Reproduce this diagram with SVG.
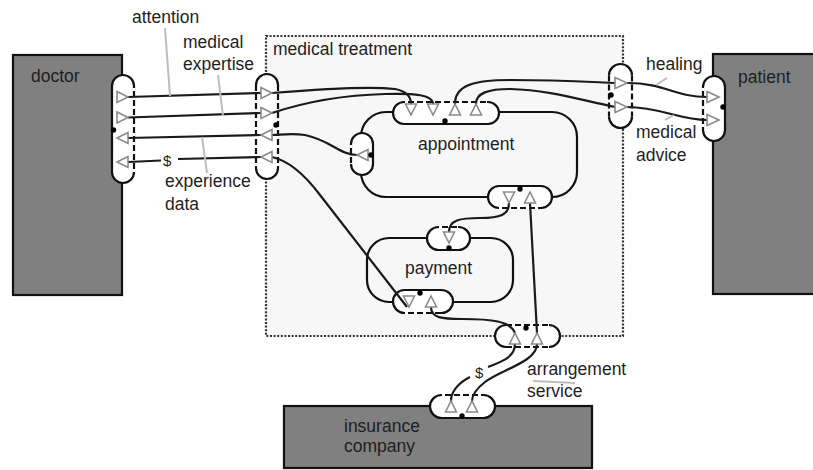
<svg xmlns="http://www.w3.org/2000/svg" width="813" height="470" viewBox="0 0 813 470">
<style>
text{font-family:"Liberation Sans",Arial,sans-serif;font-size:17.5px;fill:#1e1e1e}
.box{fill:#808080;stroke:#111;stroke-width:2.2}
.mt{fill:#f7f7f7;stroke:#333;stroke-width:2.2;stroke-dasharray:2 1.6}
.comp{fill:none;stroke:#111;stroke-width:2.2}
.port{fill:#fff;stroke:#111;stroke-width:2.2}
.dash{fill:none;stroke:#111;stroke-width:2.2;stroke-dasharray:6 3}
.c{fill:none;stroke:#1a1a1a;stroke-width:2.2}
.tri{fill:#fff;stroke:#8a8a8a;stroke-width:1.6;stroke-linejoin:miter}
.dot{fill:#000}
.lead{stroke:#bdbdbd;stroke-width:2;fill:none}
</style>

<g id="medical-treatment">
<rect class="mt" x="266" y="36" width="357" height="300"/>
<text x="273" y="55">medical treatment</text>
</g>

<g id="appointment">
<rect class="comp" x="361" y="112" width="216" height="85" rx="25"/>
<text x="418" y="150">appointment</text>
</g>

<g id="payment">
<rect class="comp" x="367" y="238" width="146" height="64" rx="22"/>
<text x="405" y="274">payment</text>
</g>

<g id="doctor">
<rect class="box" x="13" y="55" width="109" height="240"/>
<text x="31" y="82">doctor</text>
</g>

<g id="patient">
<rect class="box" x="713" y="54" width="110" height="240"/>
<text x="738" y="83">patient</text>
</g>

<g id="insurance-company">
<rect class="box" x="284" y="406" width="308" height="62"/>
<text x="344" y="432">insurance</text>
<text x="344" y="452">company</text>
</g>

<g id="ports">
<rect class="port" x="112" y="75" width="22" height="108" rx="11"/>
<rect class="port" x="256" y="74" width="22" height="105" rx="11" style="stroke:none"/>
<path class="comp" d="M256,85 A11,11 0 0 1 278,85 M256,168 A11,11 0 0 0 278,168"/>
<path class="dash" d="M256,85 V168 M278,85 V168"/>
<rect class="port" x="609" y="64" width="23" height="64" rx="11.5" style="stroke:none"/>
<path class="comp" d="M609,75.5 A11.5,11.5 0 0 1 632,75.5 M609,116.5 A11.5,11.5 0 0 0 632,116.5"/>
<path class="dash" d="M609,75.5 V116.5 M632,75.5 V116.5"/>
<rect class="port" x="703" y="76" width="22" height="65" rx="11"/>
<rect class="port" x="393" y="102" width="106" height="22" rx="11"/>
<rect class="port" x="351" y="133" width="22" height="42" rx="11"/>
<rect class="port" x="488" y="186" width="64" height="22" rx="11"/>
<rect class="port" x="427" y="227" width="43" height="23" rx="11.5"/>
<rect class="port" x="393" y="290" width="60" height="23" rx="11.5"/>
<rect class="port" x="495" y="325" width="65" height="22" rx="11" style="stroke:none"/>
<path class="comp" d="M506,325 A11,11 0 0 0 506,347 M549,325 A11,11 0 0 1 549,347"/>
<path class="dash" d="M506,325 H549 M506,347 H549"/>
<rect class="port" x="430" y="395" width="65" height="23" rx="11.5"/>
<g stroke="#fff" stroke-width="2.6" stroke-dasharray="3 6" fill="none">
<line x1="134" y1="88" x2="134" y2="172"/>
<line x1="703" y1="88" x2="703" y2="130"/>
<line x1="405" y1="102" x2="487" y2="102"/>
<line x1="351" y1="145" x2="351" y2="164"/>
<line x1="499" y1="208" x2="541" y2="208"/>
<line x1="439" y1="227" x2="458" y2="227"/>
<line x1="405" y1="313" x2="441" y2="313"/>
<line x1="442" y1="395" x2="483" y2="395"/>
</g>
</g>

<g id="connectors">
<path class="c" d="M128,97 L261,93"/>
<path class="c" d="M128,117.5 L261,113"/>
<path class="c" d="M261,135 L128,138"/>
<path class="c" d="M261,157 L178,159 M161,160.5 L128,162"/>
<path class="c" d="M272,93 C320,89 370,86 395,89 C406,91 411,96 411,104"/>
<path class="c" d="M272,113 C305,102 345,95 385,94 C415,93 433,95 433,104"/>
<path class="c" d="M455,104 C455,86 472,80 510,80 C560,80 590,82 615,83"/>
<path class="c" d="M476,104 C476,93 488,89 510,89 C550,90 580,100 615,107"/>
<path class="c" d="M627,83 C665,83 675,97 707,97"/>
<path class="c" d="M627,107 C660,107 680,120 707,120"/>
<path class="c" d="M357,155 C340,155 330,140 305,135 C290,133 280,135 272,135"/>
<path class="c" d="M272,157 C290,161 305,175 320,195 L407,307"/>
<path class="c" d="M431,307 C431,318 442,319 462,319 C492,319 510,321 515,333"/>
<path class="c" d="M515,344 C515,358 500,362 488,367 M470,377 C458,383 451,392 451,401"/>
<path class="c" d="M537,344 C537,362 500,370 485,382 C476,389 472,395 472,401"/>
<path class="c" d="M537,333 L530,203"/>
<path class="c" d="M509,203 C509,215 500,218 480,218 C460,218 449,220 449,232"/>
</g>

<g id="arrowheads">
<polygon class="tri" points="117,91.5 128,97 117,102.5"/>
<polygon class="tri" points="117,112 128,117.5 117,123"/>
<polygon class="tri" points="128,132.5 117,138 128,143.5"/>
<polygon class="tri" points="128,156.5 117,162 128,167.5"/>
<polygon class="tri" points="261,87.5 272,93 261,98.5"/>
<polygon class="tri" points="261,107.5 272,113 261,118.5"/>
<polygon class="tri" points="272,129.5 261,135 272,140.5"/>
<polygon class="tri" points="272,151.5 261,157 272,162.5"/>
<polygon class="tri" points="405.5,104 416.5,104 411,115"/>
<polygon class="tri" points="427.5,104 438.5,104 433,115"/>
<polygon class="tri" points="449.5,115 460.5,115 455,104"/>
<polygon class="tri" points="470.5,115 481.5,115 476,104"/>
<polygon class="tri" points="368,149.5 357,155 368,160.5"/>
<polygon class="tri" points="503.5,192 514.5,192 509,203"/>
<polygon class="tri" points="524.5,203 535.5,203 530,192"/>
<polygon class="tri" points="443.5,232 454.5,232 449,243"/>
<polygon class="tri" points="403.5,296 414.5,296 409,307"/>
<polygon class="tri" points="425.5,307 436.5,307 431,296"/>
<polygon class="tri" points="615,77.5 627,83 615,88.5"/>
<polygon class="tri" points="615,101.5 627,107 615,112.5"/>
<polygon class="tri" points="707,91.5 719,97 707,102.5"/>
<polygon class="tri" points="707,114.5 719,120 707,125.5"/>
<polygon class="tri" points="509.5,344 520.5,344 515,333"/>
<polygon class="tri" points="531.5,344 542.5,344 537,333"/>
<polygon class="tri" points="445.5,412 456.5,412 451,401"/>
<polygon class="tri" points="466.5,412 477.5,412 472,401"/>
</g>

<g id="dots">
<circle class="dot" cx="113.5" cy="130" r="2.7"/>
<circle class="dot" cx="276" cy="125" r="2.7"/>
<circle class="dot" cx="611" cy="95" r="2.7"/>
<circle class="dot" cx="723" cy="107" r="2.7"/>
<circle class="dot" cx="445" cy="121" r="2.7"/>
<circle class="dot" cx="371" cy="155" r="2.7"/>
<circle class="dot" cx="520" cy="189" r="2.7"/>
<circle class="dot" cx="449" cy="248" r="2.7"/>
<circle class="dot" cx="420" cy="293" r="2.7"/>
<circle class="dot" cx="526" cy="328" r="2.7"/>
<circle class="dot" cx="462" cy="416" r="2.7"/>
</g>

<g id="labels">
<path class="lead" d="M165,28 L170,96 M218,75 L223,116 M202,137 L207,173 M667,78 L656,85 M665,120 L674,115 M533,381 L575,383"/>
<text x="132" y="23">attention</text>
<text x="183" y="48">medical</text>
<text x="183" y="70">expertise</text>
<text x="165" y="187">experience</text>
<text x="165" y="210">data</text>
<text x="646" y="70">healing</text>
<text x="636" y="138">medical</text>
<text x="636" y="161">advice</text>
<text x="527" y="375">arrangement</text>
<text x="527" y="397">service</text>
<text x="163" y="166" style="font-size:15px">$</text>
<text x="475" y="378" style="font-size:15px">$</text>
</g>
</svg>
